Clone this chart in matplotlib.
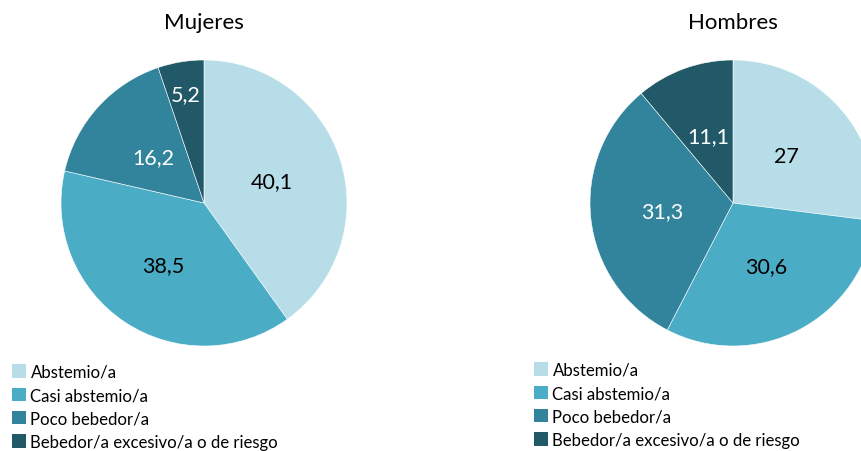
import matplotlib.pyplot as plt
import numpy as np
from matplotlib.patches import Patch

categories = ['Abstemio/a', 'Casi abstemio/a', 'Poco bebedor/a',
              'Bebedor/a excesivo/a o de riesgo']
mujeres = [40.1, 38.5, 16.2, 5.2]
hombres = [27, 30.6, 31.3, 11.1]
mujeres_labels = ['40,1', '38,5', '16,2', '5,2']
hombres_labels = ['27', '30,6', '31,3', '11,1']

colors = ['#B7DEE8', '#4BACC6', '#31849B', '#215968']
text_colors = ['black', 'black', 'white', 'white']

plt.rcParams['font.family'] = ['Lato', 'DejaVu Sans']

W, H = 862, 452
fig = plt.figure(figsize=(W / 100, H / 100), dpi=100)


def pie_panel(cx, cy, r, values, labels, dists, title, leg_x, leg_y):
    ax = fig.add_axes([(cx - r) / W, (H - cy - r) / H, 2 * r / W, 2 * r / H])
    wedges, _ = ax.pie(values, colors=colors, startangle=90, counterclock=False,
                       radius=1, wedgeprops=dict(edgecolor='white', linewidth=0.4))
    ax.set_xlim(-1, 1)
    ax.set_ylim(-1, 1)
    ax.set_aspect('equal')
    ax.axis('off')
    for w, lab, d, tc in zip(wedges, labels, dists, text_colors):
        ang = np.deg2rad((w.theta1 + w.theta2) / 2)
        ax.text(d * np.cos(ang), d * np.sin(ang), lab, ha='center', va='center',
                fontsize=15.5, color=tc)
    fig.text(cx / W, 1 - 23 / H, title, ha='center', va='center', fontsize=16)
    handles = [Patch(facecolor=c, edgecolor='none') for c in colors]
    fig.legend(handles, categories, loc='upper left',
               bbox_to_anchor=(leg_x / W, 1 - leg_y / H), frameon=False,
               fontsize=12.1, handlelength=0.85, handleheight=0.85,
               handletextpad=0.25, labelspacing=0.43, borderpad=0,
               borderaxespad=0)


pie_panel(204, 204, 143, mujeres, mujeres_labels, [0.5, 0.52, 0.48, 0.77],
          'Mujeres', 12, 365)
pie_panel(733, 204, 143, hombres, hombres_labels, [0.5, 0.5, 0.5, 0.5],
          'Hombres', 534, 363)

fig.savefig('out.png', dpi=100)
